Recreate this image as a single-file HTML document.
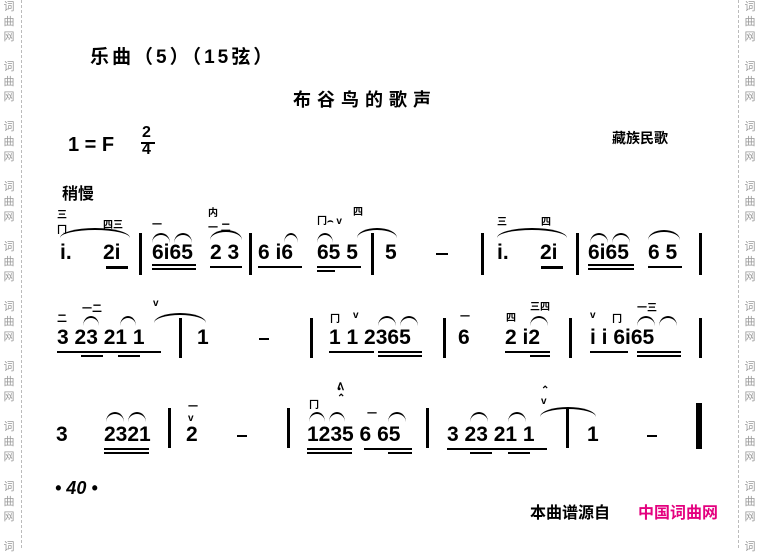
<!DOCTYPE html>
<html><head><meta charset="utf-8"><style>
body{margin:0;width:760px;height:548px;background:#fff;position:relative;overflow:hidden;font-family:"Liberation Sans","Noto Sans CJK SC",sans-serif;color:#000}
.a{position:absolute;white-space:nowrap}
.n{position:absolute;font-weight:bold;font-size:21px;line-height:21px}
.w{position:absolute;font-size:11px;color:#999;width:14px;line-height:15px;text-align:center}
.b{position:absolute;background:#000;width:3px}
.u{position:absolute;background:#000;height:2px}
.vl{position:absolute;top:0;height:548px;border-left:1px dashed #bbb}
.s{position:absolute;border-top:2px solid #000;border-radius:50% 50% 0 0/100% 100% 0 0;height:8px}
.m{position:absolute;font-size:10px;font-weight:bold}
</style></head><body>
<div class="vl" style="left:21px"></div><div class="vl" style="left:738px"></div>
<div class="w" style="left:2px;top:0">词<br>曲<br>网</div>
<div class="w" style="left:2px;top:60px">词<br>曲<br>网</div>
<div class="w" style="left:2px;top:120px">词<br>曲<br>网</div>
<div class="w" style="left:2px;top:180px">词<br>曲<br>网</div>
<div class="w" style="left:2px;top:240px">词<br>曲<br>网</div>
<div class="w" style="left:2px;top:300px">词<br>曲<br>网</div>
<div class="w" style="left:2px;top:360px">词<br>曲<br>网</div>
<div class="w" style="left:2px;top:420px">词<br>曲<br>网</div>
<div class="w" style="left:2px;top:480px">词<br>曲<br>网</div>
<div class="w" style="left:2px;top:540px">词</div>
<div class="w" style="left:743px;top:0">词<br>曲<br>网</div>
<div class="w" style="left:743px;top:60px">词<br>曲<br>网</div>
<div class="w" style="left:743px;top:120px">词<br>曲<br>网</div>
<div class="w" style="left:743px;top:180px">词<br>曲<br>网</div>
<div class="w" style="left:743px;top:240px">词<br>曲<br>网</div>
<div class="w" style="left:743px;top:300px">词<br>曲<br>网</div>
<div class="w" style="left:743px;top:360px">词<br>曲<br>网</div>
<div class="w" style="left:743px;top:420px">词<br>曲<br>网</div>
<div class="w" style="left:743px;top:480px">词<br>曲<br>网</div>
<div class="w" style="left:743px;top:540px">词</div>

<div class="a" style="left:90px;top:42px;font-size:19px;font-weight:bold;letter-spacing:3px">乐曲（5）（15弦）</div>
<div class="a" style="left:293px;top:86px;font-size:18px;font-weight:bold;letter-spacing:6px">布谷鸟的歌声</div>
<div class="a" style="left:68px;top:134px;font-size:20px;font-weight:bold">1 = F</div>
<div class="a" style="left:142px;top:124px;font-size:16px;font-weight:bold;text-align:center;line-height:17px">2<br>4</div>
<div class="u" style="left:141px;top:142px;width:14px"></div>
<div class="a" style="left:612px;top:128px;font-size:14px;font-weight:bold">藏族民歌</div>
<div class="a" style="left:62px;top:180px;font-size:16px;font-weight:bold">稍慢</div>

<!-- row1 -->
<div class="n" style="left:60px;top:242px">i.</div>
<div class="n" style="left:103px;top:242px">2i</div>
<div class="b" style="left:139px;top:233px;height:42px"></div>
<div class="n" style="left:152px;top:242px">6i65</div>
<div class="n" style="left:210px;top:242px">2 3</div>
<div class="b" style="left:249px;top:233px;height:42px"></div>
<div class="n" style="left:258px;top:242px">6 i6</div>
<div class="n" style="left:317px;top:242px">65 5</div>
<div class="b" style="left:371px;top:233px;height:42px"></div>
<div class="n" style="left:385px;top:242px">5</div>
<div class="u" style="left:436px;top:253px;width:12px"></div>
<div class="b" style="left:481px;top:233px;height:42px"></div>
<div class="n" style="left:497px;top:242px">i.</div>
<div class="n" style="left:540px;top:242px">2i</div>
<div class="b" style="left:576px;top:233px;height:42px"></div>
<div class="n" style="left:588px;top:242px">6i65</div>
<div class="n" style="left:648px;top:242px">6 5</div>
<div class="b" style="left:699px;top:233px;height:42px"></div>
<div class="u" style="left:106px;top:266px;width:22px;height:3px"></div>
<div class="u" style="left:152px;top:264px;width:44px"></div><div class="u" style="left:152px;top:268px;width:44px"></div>
<div class="u" style="left:210px;top:266px;width:32px"></div>
<div class="u" style="left:258px;top:266px;width:44px"></div>
<div class="u" style="left:317px;top:266px;width:44px"></div><div class="u" style="left:317px;top:270px;width:18px"></div>
<div class="u" style="left:541px;top:266px;width:22px;height:3px"></div>
<div class="u" style="left:588px;top:264px;width:46px"></div><div class="u" style="left:588px;top:268px;width:46px"></div>
<div class="u" style="left:648px;top:266px;width:34px"></div>
<div class="s" style="left:60px;top:228px;width:70px"></div>
<div class="s" style="left:152px;top:233px;width:18px"></div><div class="s" style="left:174px;top:233px;width:18px"></div>
<div class="s" style="left:210px;top:230px;width:32px"></div>
<div class="s" style="left:284px;top:233px;width:14px"></div>
<div class="s" style="left:317px;top:233px;width:16px"></div>
<div class="s" style="left:357px;top:228px;width:40px"></div>
<div class="s" style="left:497px;top:228px;width:70px"></div>
<div class="s" style="left:590px;top:233px;width:18px"></div><div class="s" style="left:612px;top:233px;width:18px"></div>
<div class="s" style="left:648px;top:230px;width:32px"></div>
<div class="m" style="left:57px;top:206px">三<br>冂</div>
<div class="m" style="left:103px;top:216px">四三</div>
<div class="m" style="left:152px;top:216px">一</div>
<div class="m" style="left:208px;top:204px">内<br>一 二</div>
<div class="m" style="left:317px;top:212px">冂⌢ v</div>
<div class="m" style="left:353px;top:203px">四</div>
<div class="m" style="left:497px;top:213px">三</div>
<div class="m" style="left:541px;top:213px">四</div>

<!-- row2 -->
<div class="n" style="left:57px;top:327px">3 23 21 1</div>
<div class="b" style="left:179px;top:318px;height:40px"></div>
<div class="n" style="left:197px;top:327px">1</div>
<div class="u" style="left:259px;top:338px;width:10px"></div>
<div class="b" style="left:310px;top:318px;height:40px"></div>
<div class="n" style="left:329px;top:327px">1 1 2365</div>
<div class="b" style="left:443px;top:318px;height:40px"></div>
<div class="n" style="left:458px;top:327px">6</div>
<div class="n" style="left:505px;top:327px">2 i2</div>
<div class="b" style="left:569px;top:318px;height:40px"></div>
<div class="n" style="left:590px;top:327px">i i 6i65</div>
<div class="b" style="left:699px;top:318px;height:40px"></div>
<div class="u" style="left:57px;top:351px;width:104px"></div><div class="u" style="left:81px;top:355px;width:22px"></div><div class="u" style="left:118px;top:355px;width:22px"></div>
<div class="u" style="left:329px;top:351px;width:45px"></div><div class="u" style="left:378px;top:351px;width:44px"></div><div class="u" style="left:378px;top:355px;width:44px"></div>
<div class="u" style="left:505px;top:351px;width:45px"></div><div class="u" style="left:530px;top:355px;width:20px"></div>
<div class="u" style="left:590px;top:351px;width:38px"></div><div class="u" style="left:637px;top:351px;width:44px"></div><div class="u" style="left:637px;top:355px;width:44px"></div>
<div class="s" style="left:83px;top:316px;width:16px"></div>
<div class="s" style="left:120px;top:316px;width:16px"></div>
<div class="s" style="left:154px;top:313px;width:52px"></div>
<div class="s" style="left:378px;top:316px;width:18px"></div><div class="s" style="left:400px;top:316px;width:18px"></div>
<div class="s" style="left:530px;top:316px;width:18px"></div>
<div class="s" style="left:637px;top:316px;width:18px"></div><div class="s" style="left:659px;top:316px;width:18px"></div>
<div class="m" style="left:57px;top:310px">二</div>
<div class="m" style="left:82px;top:300px">一二</div>
<div class="m" style="left:153px;top:298px">v</div>
<div class="m" style="left:330px;top:310px">冂</div><div class="m" style="left:353px;top:310px">v</div>
<div class="m" style="left:460px;top:308px">一</div>
<div class="m" style="left:506px;top:309px">四</div><div class="m" style="left:530px;top:298px">三四</div>
<div class="m" style="left:590px;top:310px">v</div><div class="m" style="left:612px;top:310px">冂</div><div class="m" style="left:637px;top:299px">一三</div>

<!-- row3 -->
<div class="n" style="left:56px;top:424px">3</div>
<div class="n" style="left:104px;top:424px">2321</div>
<div class="b" style="left:168px;top:408px;height:40px"></div>
<div class="n" style="left:186px;top:424px">2</div>
<div class="u" style="left:237px;top:435px;width:10px"></div>
<div class="b" style="left:287px;top:408px;height:40px"></div>
<div class="n" style="left:307px;top:424px">1235 6 65</div>
<div class="b" style="left:426px;top:408px;height:40px"></div>
<div class="n" style="left:447px;top:424px">3 23 21 1</div>
<div class="b" style="left:566px;top:408px;height:40px"></div>
<div class="n" style="left:587px;top:424px">1</div>
<div class="u" style="left:647px;top:435px;width:10px"></div>
<div class="b" style="left:696px;top:403px;height:46px;width:6px"></div>
<div class="u" style="left:104px;top:448px;width:45px"></div><div class="u" style="left:104px;top:452px;width:45px"></div>
<div class="u" style="left:307px;top:448px;width:45px"></div><div class="u" style="left:307px;top:452px;width:45px"></div>
<div class="u" style="left:364px;top:448px;width:48px"></div><div class="u" style="left:388px;top:452px;width:24px"></div>
<div class="u" style="left:447px;top:448px;width:100px"></div><div class="u" style="left:470px;top:452px;width:22px"></div><div class="u" style="left:508px;top:452px;width:22px"></div>
<div class="s" style="left:106px;top:412px;width:18px"></div><div class="s" style="left:128px;top:412px;width:18px"></div>
<div class="s" style="left:309px;top:412px;width:16px"></div><div class="s" style="left:329px;top:412px;width:16px"></div>
<div class="s" style="left:388px;top:412px;width:18px"></div>
<div class="s" style="left:470px;top:412px;width:18px"></div><div class="s" style="left:508px;top:412px;width:18px"></div>
<div class="s" style="left:540px;top:407px;width:56px"></div>
<div class="m" style="left:188px;top:398px">一<br>v</div>
<div class="m" style="left:309px;top:396px">冂</div>
<div class="m" style="left:337px;top:382px">ᕕ<br>⌃</div>
<div class="m" style="left:367px;top:405px">一</div>
<div class="m" style="left:541px;top:385px">⌃<br>v</div>

<div class="a" style="left:55px;top:478px;font-size:18px;font-weight:bold;font-style:italic">• 40 •</div>
<div class="a" style="left:530px;top:499px;font-size:16px;font-weight:bold">本曲谱源自</div>
<div class="a" style="left:638px;top:499px;font-size:16px;font-weight:bold;color:#e4007f">中国词曲网</div>
</body></html>
